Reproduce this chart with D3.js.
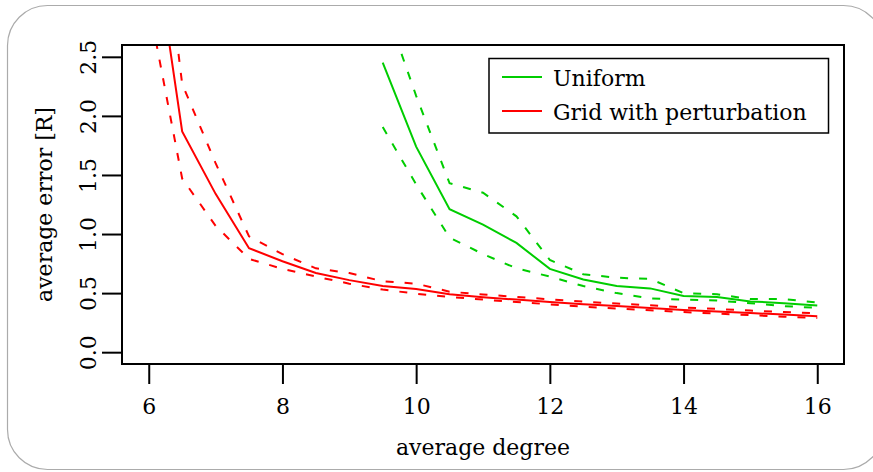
<!DOCTYPE html>
<html>
<head>
<meta charset="utf-8">
<script src="https://cdn.jsdelivr.net/npm/d3@7"></script>
<style>
  html, body { margin: 0; padding: 0; background: #fff; }
  svg { display: block; }
  text { font-family: "DejaVu Serif", serif; fill: #000; }
</style>
</head>
<body>
<svg id="chart" width="873" height="472"></svg>
<script>
// Average degree values for each series
const degreeGrid = [6, 6.5, 7, 7.5, 8, 8.5, 9, 9.5, 10, 10.5, 11, 11.5, 12, 12.5, 13, 13.5, 14, 14.5, 15, 15.5, 16];
const degreeUniform = [9.5, 10, 10.5, 11, 11.5, 12, 12.5, 13, 13.5, 14, 14.5, 15, 15.5, 16];

// Grid with perturbation: mean error and upper / lower band
const gridMean  = [3.80, 1.868, 1.34, 0.88, 0.77, 0.67, 0.61, 0.56, 0.535, 0.49, 0.465, 0.445, 0.425, 0.405, 0.39, 0.375, 0.357, 0.345, 0.332, 0.318, 0.305];
const gridUpper = [4.60, 2.27, 1.60, 0.98, 0.83, 0.71, 0.67, 0.60, 0.58, 0.512, 0.488, 0.468, 0.447, 0.428, 0.412, 0.397, 0.378, 0.366, 0.352, 0.340, 0.330];
const gridLower = [2.95, 1.47, 1.07, 0.79, 0.705, 0.64, 0.58, 0.53, 0.495, 0.468, 0.445, 0.425, 0.405, 0.385, 0.37, 0.355, 0.34, 0.327, 0.314, 0.300, 0.290];

// Uniform: mean error and upper / lower band
const uniformMean  = [2.45, 1.74, 1.21, 1.08, 0.925, 0.705, 0.615, 0.56, 0.54, 0.475, 0.468, 0.43, 0.415, 0.395];
const uniformUpper = [2.98, 2.17, 1.43, 1.35, 1.15, 0.78, 0.66, 0.63, 0.62, 0.50, 0.49, 0.45, 0.45, 0.42];
const uniformLower = [1.905, 1.42, 0.97, 0.83, 0.71, 0.64, 0.56, 0.50, 0.455, 0.445, 0.437, 0.415, 0.39, 0.375];

const xTicks = [6, 8, 10, 12, 14, 16];
const yTicks = [0, 0.5, 1, 1.5, 2, 2.5];
const yTickLabels = ["0.0", "0.5", "1.0", "1.5", "2.0", "2.5"];

const legendLabels = ["Uniform", "Grid with perturbation"];
const seriesColors = ["#00cd00", "#ff0000"];

const svg = d3.select("#chart");
const plot = { left: 122, right: 844, top: 45, bottom: 364 };

const x = d3.scaleLinear().domain([5.6, 16.4]).range([plot.left, plot.right]);
const y = d3.scaleLinear().domain([-0.1, 2.6]).range([plot.bottom, plot.top]);

// rounded outer frame
svg.append("rect")
  .attr("x", 7.5).attr("y", 5.5)
  .attr("width", 876).attr("height", 464)
  .attr("rx", 40).attr("ry", 40)
  .attr("fill", "none")
  .attr("stroke", "#ababab")
  .attr("stroke-width", 1.2);

svg.append("defs").append("clipPath").attr("id", "plotClip")
  .append("rect")
  .attr("x", plot.left).attr("y", plot.top)
  .attr("width", plot.right - plot.left).attr("height", plot.bottom - plot.top);

// series lines
const lineGen = xs => d3.line()
  .x((d, i) => x(xs[i]))
  .y(d => y(d));

const lines = svg.append("g").attr("clip-path", "url(#plotClip)");
const series = [
  { xs: degreeUniform, vals: [uniformMean, uniformUpper, uniformLower], color: seriesColors[0] },
  { xs: degreeGrid, vals: [gridMean, gridUpper, gridLower], color: seriesColors[1] }
];
series.forEach(s => {
  s.vals.forEach((v, k) => {
    lines.append("path")
      .attr("d", lineGen(s.xs)(v))
      .attr("fill", "none")
      .attr("stroke", s.color)
      .attr("stroke-width", 2)
      .attr("stroke-dasharray", k === 0 ? null : "8,11");
  });
});

// plot box
svg.append("rect")
  .attr("x", plot.left).attr("y", plot.top)
  .attr("width", plot.right - plot.left).attr("height", plot.bottom - plot.top)
  .attr("fill", "none").attr("stroke", "#000").attr("stroke-width", 2);

// x axis
const xAxis = svg.append("g")
  .attr("transform", `translate(0,${plot.bottom})`)
  .call(d3.axisBottom(x).tickValues(xTicks).tickSize(20).tickPadding(14).tickSizeOuter(0));
xAxis.select(".domain").remove();
xAxis.append("line")
  .attr("x1", x(xTicks[0])).attr("x2", x(xTicks[xTicks.length - 1]))
  .attr("stroke", "#000").attr("stroke-width", 2);
xAxis.selectAll(".tick line").attr("stroke-width", 2);
xAxis.selectAll(".tick text")
  .style("font-family", "DejaVu Serif").style("font-size", "22px");

// y axis
const yAxis = svg.append("g")
  .attr("transform", `translate(${plot.left},0)`)
  .call(d3.axisLeft(y).tickValues(yTicks).tickSize(20).tickSizeOuter(0)
    .tickFormat((d, i) => yTickLabels[i]));
yAxis.select(".domain").remove();
yAxis.append("line")
  .attr("y1", y(yTicks[0])).attr("y2", y(yTicks[yTicks.length - 1]))
  .attr("stroke", "#000").attr("stroke-width", 2);
yAxis.selectAll(".tick line").attr("stroke-width", 2);
yAxis.selectAll(".tick text")
  .attr("x", null).attr("dy", null)
  .attr("text-anchor", "middle")
  .attr("transform", "translate(-26,0) rotate(-90)")
  .style("font-family", "DejaVu Serif").style("font-size", "22px");

// axis titles
svg.append("text")
  .attr("x", (plot.left + plot.right) / 2).attr("y", 455)
  .attr("text-anchor", "middle")
  .style("font-size", "22px")
  .text("average degree");

svg.append("text")
  .attr("transform", `translate(52,${(plot.top + plot.bottom) / 2}) rotate(-90)`)
  .attr("text-anchor", "middle")
  .style("font-size", "22px")
  .text("average error [R]");

// legend
const legend = svg.append("g");
legend.append("rect")
  .attr("x", 489).attr("y", 58.5).attr("width", 339.5).attr("height", 74.5)
  .attr("fill", "#fff").attr("stroke", "#000").attr("stroke-width", 1.5);
const legendY = [77, 111];
legendLabels.forEach((lab, i) => {
  legend.append("line")
    .attr("x1", 502).attr("x2", 542)
    .attr("y1", legendY[i]).attr("y2", legendY[i])
    .attr("stroke", seriesColors[i]).attr("stroke-width", 2);
  legend.append("text")
    .attr("x", 553).attr("y", legendY[i] + 8.5)
    .style("font-size", "22px")
    .text(lab);
});
</script>
</body>
</html>
